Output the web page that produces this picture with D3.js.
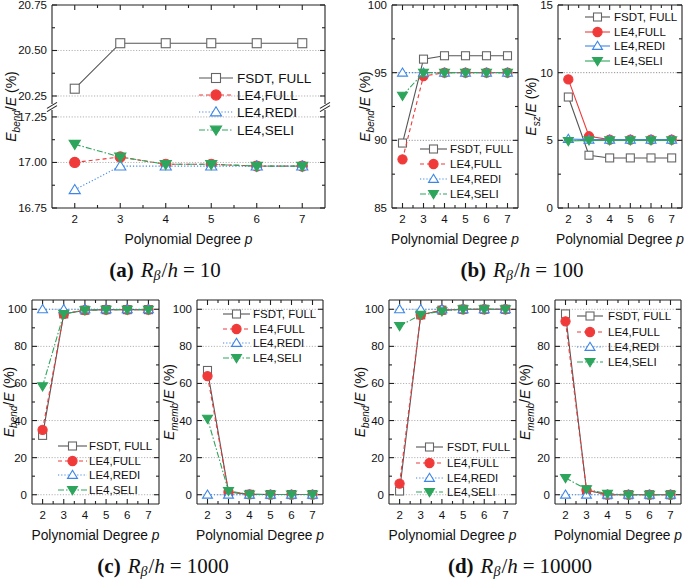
<!DOCTYPE html>
<html><head><meta charset="utf-8">
<script src="https://cdn.jsdelivr.net/npm/d3@7"></script>
<style>body{margin:0;background:#fff}svg{display:block}</style>
</head><body>
<svg id="c" width="685" height="580"></svg>
<script>
const degrees = [2, 3, 4, 5, 6, 7];
const seriesNames = ["FSDT, FULL", "LE4,FULL", "LE4,REDI", "LE4,SELI"];

// (a) R/h = 10, E_bend/E
const aBendFSDT = [20.29, 20.54, 20.54, 20.54, 20.54, 20.54];
const aBendFull = [17.00, 17.03, 16.99, 16.99, 16.98, 16.98];
const aBendRedi = [16.85, 16.98, 16.98, 16.98, 16.98, 16.98];
const aBendSeli = [17.10, 17.03, 16.99, 16.99, 16.98, 16.98];
const aTicksUpper = [20.25, 20.50, 20.75];
const aTicksLower = [16.75, 17.00, 17.25];

// (b) R/h = 100
const bBendFSDT = [89.8, 96.0, 96.25, 96.25, 96.25, 96.25];
const bBendFull = [88.6, 94.75, 95.0, 95.0, 95.0, 95.0];
const bBendRedi = [95.0, 95.0, 95.0, 95.0, 95.0, 95.0];
const bBendSeli = [93.3, 95.0, 95.0, 95.0, 95.0, 95.0];
const bSzFSDT = [8.2, 3.9, 3.7, 3.7, 3.7, 3.7];
const bSzFull = [9.5, 5.3, 5.05, 5.05, 5.05, 5.05];
const bSzRedi = [5.1, 5.05, 5.05, 5.05, 5.05, 5.05];
const bSzSeli = [4.95, 5.0, 5.0, 5.0, 5.0, 5.0];

// (c) R/h = 1000
const cBendFSDT = [32, 97.5, 99.5, 99.8, 99.8, 99.8];
const cBendFull = [35, 97.5, 99.5, 99.8, 99.8, 99.8];
const cBendRedi = [100, 100, 100, 100, 100, 100];
const cBendSeli = [58.5, 97.5, 99.5, 99.8, 99.8, 99.8];
const cMembFSDT = [67, 1.5, 0.2, 0.1, 0.1, 0.1];
const cMembFull = [64, 1.5, 0.2, 0.1, 0.1, 0.1];
const cMembRedi = [0, 0, 0, 0, 0, 0];
const cMembSeli = [41, 2.0, 0.2, 0.1, 0.1, 0.1];

// (d) R/h = 10000
const dBendFSDT = [2, 97, 99.5, 100, 100, 100];
const dBendFull = [6, 97, 99.5, 100, 100, 100];
const dBendRedi = [100, 100, 100, 100, 100, 100];
const dBendSeli = [91, 97, 99, 100, 100, 100];
const dMembFSDT = [97.5, 2.5, 0, 0, 0, 0];
const dMembFull = [93.5, 2.5, 0, 0, 0, 0];
const dMembRedi = [0, 0, 0, 0, 0, 0];
const dMembSeli = [9, 3, 0.5, 0, 0, 0];

const captions = [
  {tag: "(a)", val: "10"}, {tag: "(b)", val: "100"},
  {tag: "(c)", val: "1000"}, {tag: "(d)", val: "10000"}
];

const styles = [
  {color: "#555", mstroke: "#666", fill: "#fff", shape: "square", dash: null},
  {color: "#f03a3a", mstroke: "#f03a3a", fill: "#f03a3a", shape: "circle", dash: "4,3"},
  {color: "#3d86e8", mstroke: "#3d86e8", fill: "#fff", shape: "up", dash: "1.2,2"},
  {color: "#2ea55c", mstroke: "#2ea55c", fill: "#2ea55c", shape: "down", dash: "6,2,1.5,2"}
];

const svg = d3.select("#c");
const SANS = "'Liberation Sans', Arial, sans-serif";
const SERIF = "'Liberation Serif', 'DejaVu Serif', serif";

function marker(g, shape, x, y, s, st) {
  let el;
  if (shape === "square") {
    el = g.append("rect").attr("x", x - s/2).attr("y", y - s/2).attr("width", s).attr("height", s);
  } else if (shape === "circle") {
    el = g.append("circle").attr("cx", x).attr("cy", y).attr("r", s/2 + 0.6);
  } else if (shape === "up") {
    const h = s * 0.95;
    el = g.append("path").attr("d", `M${x},${y - h*0.62}L${x + s*0.62},${y + h*0.45}L${x - s*0.62},${y + h*0.45}Z`);
  } else {
    const h = s * 0.95;
    el = g.append("path").attr("d", `M${x},${y + h*0.62}L${x + s*0.62},${y - h*0.45}L${x - s*0.62},${y - h*0.45}Z`);
  }
  el.attr("fill", st.fill).attr("stroke", st.mstroke).attr("stroke-width", 1.1);
}

function yLabel(g, x, y, sub) {
  const t = g.append("text").attr("transform", `translate(${x},${y}) rotate(-90)`)
    .attr("text-anchor", "middle").attr("font-family", SANS).attr("font-size", 14).attr("fill", "#111");
  t.append("tspan").attr("font-style", "italic").text("E");
  t.append("tspan").attr("font-style", "italic").attr("font-size", 10).attr("dy", 3.5).text(sub);
  t.append("tspan").attr("dy", -3.5).text("/");
  t.append("tspan").attr("font-style", "italic").text("E");
  t.append("tspan").text(" (%)");
}

function panel(cfg) {
  const g = svg.append("g");
  const [x0, x1] = cfg.xr, [y0, y1] = cfg.yr;
  const x = d3.scaleLinear().domain([1.5, 7.5]).range([x0, x1]);
  let yf, segs;
  if (cfg.broken) {
    const yu = d3.scaleLinear().domain([20.206, 20.75]).range([104, y0]);
    const yl = d3.scaleLinear().domain([16.75, 17.288]).range([y1, 110]);
    yf = v => v > 19 ? yu(v) : yl(v);
    segs = [{s: yu, ticks: aTicksUpper, minor: [20.375, 20.625], r: [104, y0]},
            {s: yl, ticks: aTicksLower, minor: [16.875, 17.125], r: [y1, 110]}];
  } else {
    const y = d3.scaleLinear().domain(cfg.yd).range([y1, y0]);
    yf = y;
    segs = [{s: y, ticks: cfg.ticks, minor: cfg.minor, r: [y1, y0]}];
  }
  segs.forEach(sg => {
    sg.ticks.forEach(t => {
      const yy = sg.s(t);
      if (Math.abs(yy - y0) < 1 || Math.abs(yy - y1) < 1) return;
      g.append("line").attr("x1", x0).attr("x2", x1).attr("y1", yy).attr("y2", yy)
        .attr("stroke", cfg.gridColor || "#aaa").attr("stroke-width", 0.9).attr("stroke-dasharray", "1.2,1.6");
    });
  });
  const ax = g.append("g").attr("stroke", "#222").attr("stroke-width", 1.1);
  segs.forEach(sg => {
    ax.append("line").attr("x1", x0).attr("x2", x0).attr("y1", sg.r[0]).attr("y2", sg.r[1]);
    ax.append("line").attr("x1", x1).attr("x2", x1).attr("y1", sg.r[0]).attr("y2", sg.r[1]);
    sg.ticks.forEach(t => {
      const yy = sg.s(t);
      ax.append("line").attr("x1", x0).attr("x2", x0 + 5).attr("y1", yy).attr("y2", yy);
      ax.append("line").attr("x1", x1).attr("x2", x1 - 5).attr("y1", yy).attr("y2", yy);
      g.append("text").attr("x", x0 - 5).attr("y", yy + 4).attr("text-anchor", "end")
        .attr("font-family", SANS).attr("font-size", 11.5).attr("fill", "#111")
        .text(cfg.fmt ? cfg.fmt(t) : t);
    });
    sg.minor.forEach(t => {
      const yy = sg.s(t);
      ax.append("line").attr("x1", x0).attr("x2", x0 + 3).attr("y1", yy).attr("y2", yy);
      ax.append("line").attr("x1", x1).attr("x2", x1 - 3).attr("y1", yy).attr("y2", yy);
    });
  });
  ax.append("line").attr("x1", x0).attr("x2", x1).attr("y1", y0).attr("y2", y0);
  ax.append("line").attr("x1", x0).attr("x2", x1).attr("y1", y1).attr("y2", y1);
  if (cfg.broken) {
    [x0, x1].forEach(xx => {
      [-1.6, 1.6].forEach(o => {
        ax.append("line").attr("x1", xx - 5).attr("x2", xx + 5).attr("y1", 107 + o + 3).attr("y2", 107 + o - 3);
      });
    });
  }
  degrees.forEach(d => {
    const xx = x(d);
    ax.append("line").attr("x1", xx).attr("x2", xx).attr("y1", y1).attr("y2", y1 - 5);
    ax.append("line").attr("x1", xx).attr("x2", xx).attr("y1", y0).attr("y2", y0 + 5);
    g.append("text").attr("x", xx).attr("y", y1 + 15).attr("text-anchor", "middle")
      .attr("font-family", SANS).attr("font-size", 11.5).attr("fill", "#111").text(d);
  });
  d3.range(2.5, 7.5, 1).forEach(d => {
    const xx = x(d);
    ax.append("line").attr("x1", xx).attr("x2", xx).attr("y1", y1).attr("y2", y1 - 3);
    ax.append("line").attr("x1", xx).attr("x2", xx).attr("y1", y0).attr("y2", y0 + 3);
  });
  const xt = g.append("text").attr("x", (x0 + x1) / 2).attr("y", y1 + 36).attr("text-anchor", "middle")
    .attr("font-family", SANS).attr("font-size", 13.8).attr("fill", "#111");
  xt.append("tspan").text("Polynomial Degree ");
  xt.append("tspan").attr("font-style", "italic").text("p");
  yLabel(g, cfg.ylx, (y0 + y1) / 2, cfg.sub);
  const ms = cfg.ms || 8;
  cfg.series.forEach((vals, i) => {
    const st = styles[i];
    const line = d3.line().x((v, j) => x(degrees[j])).y(v => yf(v));
    g.append("path").datum(vals).attr("d", line).attr("fill", "none")
      .attr("stroke", st.color).attr("stroke-width", 1.1)
      .attr("stroke-dasharray", cfg.solid ? null : st.dash);
    vals.forEach((v, j) => marker(g, st.shape, x(degrees[j]), yf(v), ms, st));
  });
  const L = cfg.legend;
  seriesNames.forEach((name, i) => {
    const st = styles[i];
    const yy = L.rows[i];
    g.append("line").attr("x1", L.x0).attr("x2", L.x1).attr("y1", yy).attr("y2", yy)
      .attr("stroke", st.color).attr("stroke-width", 1.1).attr("stroke-dasharray", cfg.solid ? null : st.dash);
    marker(g, st.shape, (L.x0 + L.x1) / 2, yy, ms, st);
    g.append("text").attr("x", L.tx).attr("y", yy + L.fs * 0.36).attr("font-family", SANS)
      .attr("font-size", L.fs).attr("fill", "#111").text(name);
  });
}

function caption(cx, cy, c) {
  const t = svg.append("text").attr("x", cx).attr("y", cy).attr("text-anchor", "middle")
    .attr("font-family", SERIF).attr("font-size", 21).attr("fill", "#111");
  t.append("tspan").attr("font-weight", "bold").text(c.tag);
  t.append("tspan").attr("dx", 7).attr("font-style", "italic").text("R");
  t.append("tspan").attr("font-style", "italic").attr("font-size", 14).attr("dy", 3).text("β");
  t.append("tspan").attr("dy", -3).attr("dx", 1).text("/");
  t.append("tspan").attr("font-style", "italic").text("h");
  t.append("tspan").attr("dx", 5).text("=");
  t.append("tspan").attr("dx", 5).text(c.val);
}

const fmt2 = d3.format(".2f");
panel({xr: [52, 325], yr: [5, 208], broken: true, fmt: fmt2, ylx: 16, sub: "bend", ms: 9,
  series: [aBendFSDT, aBendFull, aBendRedi, aBendSeli],
  legend: {rows: [78, 95, 112, 130], x0: 199, x1: 233, tx: 237, fs: 13.5}});
panel({xr: [392, 518], yr: [5, 208], yd: [85, 100], ticks: [85, 90, 95, 100], minor: [87.5, 92.5, 97.5],
  ylx: 370, sub: "bend", gridColor: "#888",
  series: [bBendFSDT, bBendFull, bBendRedi, bBendSeli],
  legend: {rows: [149, 164, 179, 194], x0: 420, x1: 447, tx: 450, fs: 11.5}});
panel({xr: [558, 682], yr: [5, 208], yd: [0, 15], ticks: [0, 5, 10, 15], minor: [2.5, 7.5, 12.5],
  ylx: 536, sub: "sz", solid: true, gridColor: "#888",
  series: [bSzFSDT, bSzFull, bSzRedi, bSzSeli],
  legend: {rows: [17, 32, 46, 61], x0: 585, x1: 610, tx: 614, fs: 11.5}});
panel({xr: [32, 159], yr: [300, 504], yd: [-5, 105], ticks: [0, 20, 40, 60, 80, 100], minor: [10, 30, 50, 70, 90],
  ylx: 13.5, sub: "bend",
  series: [cBendFSDT, cBendFull, cBendRedi, cBendSeli],
  legend: {rows: [446, 461, 475, 490], x0: 58, x1: 87, tx: 89, fs: 11.5}});
panel({xr: [197, 323], yr: [300, 504], yd: [-5, 105], ticks: [0, 20, 40, 60, 80, 100], minor: [10, 30, 50, 70, 90],
  ylx: 174, sub: "memb",
  series: [cMembFSDT, cMembFull, cMembRedi, cMembSeli],
  legend: {rows: [314, 329, 343, 358], x0: 223, x1: 250, tx: 253, fs: 11.5}});
panel({xr: [389, 516], yr: [300, 504], yd: [-5, 105], ticks: [0, 20, 40, 60, 80, 100], minor: [10, 30, 50, 70, 90],
  ylx: 365, sub: "bend",
  series: [dBendFSDT, dBendFull, dBendRedi, dBendSeli],
  legend: {rows: [447, 463, 478, 492], x0: 416, x1: 443, tx: 447, fs: 11.5}});
panel({xr: [555, 681], yr: [300, 504], yd: [-5, 105], ticks: [0, 20, 40, 60, 80, 100], minor: [10, 30, 50, 70, 90],
  ylx: 530, sub: "memb",
  series: [dMembFSDT, dMembFull, dMembRedi, dMembSeli],
  legend: {rows: [316, 332, 347, 362], x0: 577, x1: 603, tx: 608, fs: 11.5}});

caption(165, 277, captions[0]);
caption(522, 277, captions[1]);
caption(163, 573, captions[2]);
caption(520, 573, captions[3]);
</script>
</body></html>
